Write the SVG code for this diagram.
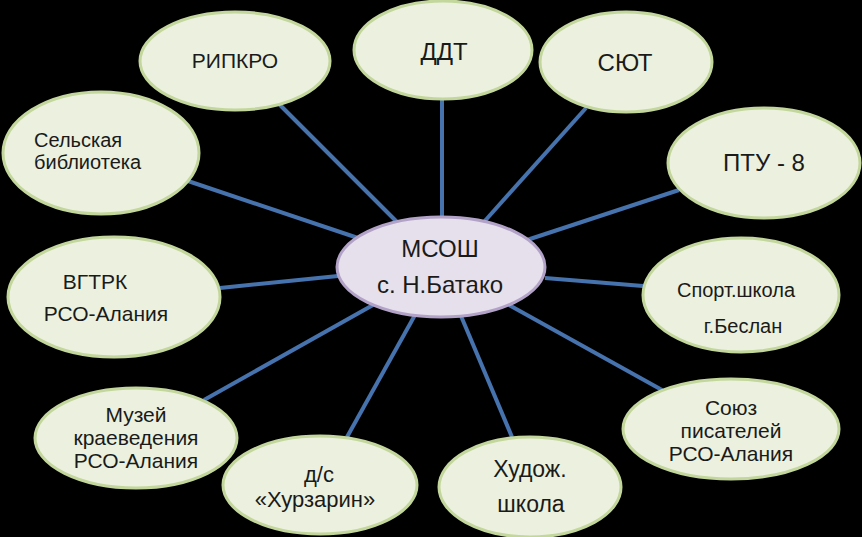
<svg xmlns="http://www.w3.org/2000/svg" width="862" height="537" viewBox="0 0 862 537">
<style>
.bg{fill:#000}
.n ellipse{fill:#ebf1de;stroke:#c3d69b;stroke-width:3}
#center ellipse{fill:#e5e0ec;stroke:#b3a2c7;stroke-width:3}
text{font-family:"Liberation Sans",Arial,sans-serif;fill:#1a1a1a;text-anchor:middle}
#connectors line{stroke:#4673ad;stroke-width:4;stroke-linecap:butt}
</style>
<rect class="bg" x="0" y="0" width="862" height="537"/>
<g id="connectors">
<line x1="442" y1="100" x2="442" y2="218"/>
<line x1="280" y1="105" x2="398" y2="223"/>
<line x1="586" y1="108" x2="483" y2="223"/>
<line x1="188" y1="181" x2="361" y2="239"/>
<line x1="679" y1="190" x2="527" y2="240"/>
<line x1="220" y1="288" x2="338" y2="276"/>
<line x1="643" y1="286" x2="545" y2="278"/>
<line x1="204" y1="400" x2="373" y2="305"/>
<line x1="347" y1="437" x2="415" y2="315"/>
<line x1="512" y1="437" x2="461" y2="316"/>
<line x1="662" y1="390" x2="509" y2="305"/>
</g>
<g id="center"><ellipse cx="441" cy="267" rx="104" ry="50"/>
<text x="440" y="257" font-size="24">МСОШ</text><text x="440" y="293" font-size="24">с. Н.Батако</text></g>
<g id="ripkro" class="n"><ellipse cx="235" cy="61" rx="95" ry="49"/><text x="235" y="68" font-size="21">РИПКРО</text></g>
<g id="ddt" class="n"><ellipse cx="443" cy="50" rx="89" ry="49"/><text x="444" y="60" font-size="24">ДДТ</text></g>
<g id="syut" class="n"><ellipse cx="626" cy="62" rx="86" ry="50"/><text x="625" y="71" font-size="24">СЮТ</text></g>
<g id="biblioteka" class="n"><ellipse cx="101" cy="153" rx="98" ry="61"/><text x="34" y="147" font-size="20" style="text-anchor:start">Сельская</text><text x="34" y="169" font-size="20" style="text-anchor:start">библиотека</text></g>
<g id="ptu" class="n"><ellipse cx="764" cy="163" rx="96" ry="55"/><text x="764" y="171" font-size="24">ПТУ - 8</text></g>
<g id="vgtrk" class="n"><ellipse cx="114" cy="297" rx="106" ry="60"/><text x="95" y="289" font-size="21">ВГТРК</text><text x="106" y="321" font-size="21">РСО-Алания</text></g>
<g id="sport" class="n"><ellipse cx="741" cy="295" rx="98" ry="57"/><text x="736" y="297" font-size="20">Спорт.школа</text><text x="743" y="333" font-size="20">г.Беслан</text></g>
<g id="muzey" class="n"><ellipse cx="136" cy="438" rx="101" ry="50"/><text x="136" y="422" font-size="21">Музей</text><text x="136" y="445" font-size="21">краеведения</text><text x="136" y="468" font-size="21">РСО-Алания</text></g>
<g id="soyuz" class="n"><ellipse cx="731" cy="429" rx="108" ry="50"/><text x="731" y="415" font-size="21">Союз</text><text x="731" y="438" font-size="21">писателей</text><text x="731" y="461" font-size="21">РСО-Алания</text></g>
<g id="ds" class="n"><ellipse cx="320" cy="485" rx="97" ry="49"/><text x="319" y="482" font-size="22">д/с</text><text x="315" y="507" font-size="22">«Хурзарин»</text></g>
<g id="khudozh" class="n"><ellipse cx="530" cy="487" rx="91" ry="50"/><text x="530" y="477" font-size="23">Худож.</text><text x="531" y="512" font-size="23">школа</text></g>
</svg>
